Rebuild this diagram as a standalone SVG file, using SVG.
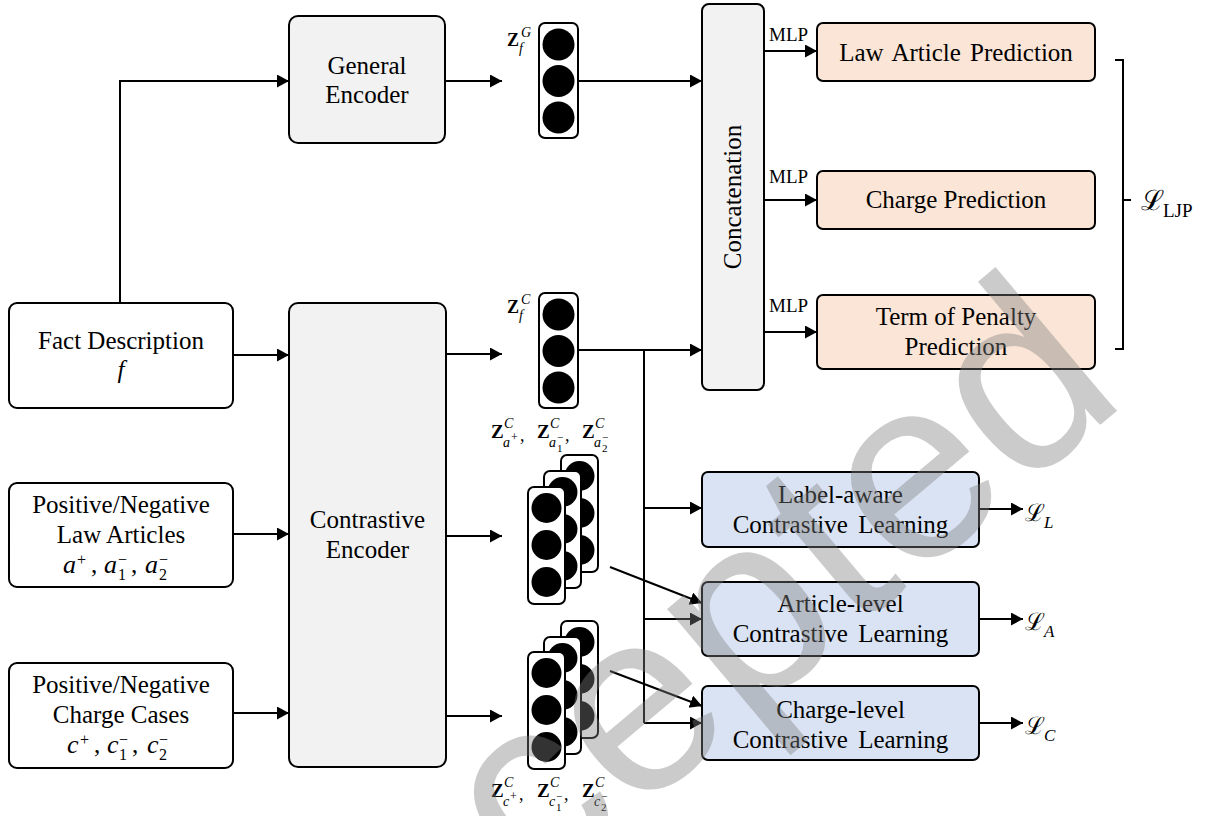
<svg xmlns="http://www.w3.org/2000/svg" width="1206" height="816" viewBox="0 0 1206 816">
<defs>
<marker id="ah" markerUnits="userSpaceOnUse" markerWidth="14" markerHeight="14" refX="12" refY="6.5" orient="auto"><path d="M0,0 L12,6.5 L0,13 z" fill="#000"/></marker>
<style>
text{font-family:"Liberation Serif","Times New Roman",serif}
.box{stroke:#000;stroke-width:2}
.enc{fill:#f2f2f2}
.inp{fill:#fff}
.pred{fill:#fbe5d6}
.cl{fill:#dae3f3}
.t{font-size:25px;fill:#000;text-anchor:middle}
.mlp{font-size:19px;fill:#000}
.mi{font-style:italic;fill:#000}
.mu{fill:#000}
.zb{font-weight:bold;fill:#000}
.sc{font-family:"DejaVu Serif",serif;fill:#000}
.ln{stroke:#000;stroke-width:2;fill:none}
.arr{marker-end:url(#ah)}
.vec{fill:#fff;stroke:#000;stroke-width:2}
.dot{fill:#000}
.wm{font-family:"Liberation Sans",Arial,sans-serif;font-size:260px;fill:#808080;opacity:0.4}
</style>
</defs>
<rect width="1206" height="816" fill="#fff"/>

<g id="connectors">
<path class="ln arr" d="M120,303 V81 H289"/>
<path class="ln arr" d="M233,355 H289"/>
<path class="ln arr" d="M233,534 H289"/>
<path class="ln arr" d="M233,713 H289"/>
<path class="ln arr" d="M446,81 H502"/>
<path class="ln arr" d="M446,354 H502"/>
<path class="ln arr" d="M446,536 H502"/>
<path class="ln arr" d="M446,716 H502"/>
<path class="ln arr" d="M578,81 H702"/>
<path class="ln arr" d="M578,350 H702"/>
<path class="ln" d="M644,350 V723"/>
<path class="ln arr" d="M644,508 H702"/>
<path class="ln arr" d="M644,619 H702"/>
<path class="ln arr" d="M644,723 H702"/>
<path class="ln arr" d="M610,567 L702,603"/>
<path class="ln arr" d="M610,671 L702,706"/>
<path class="ln arr" d="M764,51 H817"/>
<path class="ln arr" d="M764,200 H817"/>
<path class="ln arr" d="M764,332 H817"/>
<path class="ln arr" d="M979,509 H1023"/>
<path class="ln arr" d="M979,619 H1023"/>
<path class="ln arr" d="M979,723 H1023"/>
<path class="ln" d="M1115,60 H1123 V349 H1115 M1123,200 H1131"/>
</g>

<g id="general-encoder">
<rect class="box enc" x="289" y="16" width="156" height="127" rx="9"/>
<text class="t" x="367" y="74">General</text>
<text class="t" x="367" y="103">Encoder</text>
</g>

<g id="contrastive-encoder">
<rect class="box enc" x="289" y="303" width="157" height="464" rx="9"/>
<text class="t" x="367.5" y="528">Contrastive</text>
<text class="t" x="367.5" y="558">Encoder</text>
</g>

<g id="fact-description">
<rect class="box inp" x="9" y="303" width="224" height="105" rx="8"/>
<text class="t" x="121" y="349">Fact Description</text>
<text class="t mi" x="121" y="378">f</text>
</g>

<g id="law-articles">
<rect class="box inp" x="9" y="483" width="224" height="104" rx="8"/>
<text class="t" x="121" y="513">Positive/Negative</text>
<text class="t" x="121" y="543">Law Articles</text>
<text class="mi" x="63" y="573" font-size="26">a</text>
<text class="mu" x="77" y="565" font-size="16">+</text>
<text class="mu" x="91" y="573" font-size="25">,</text>
<text class="mi" x="104" y="573" font-size="26">a</text>
<text class="mu" x="118" y="565" font-size="16">−</text>
<text class="mu" x="118" y="580" font-size="16">1</text>
<text class="mu" x="131" y="573" font-size="25">,</text>
<text class="mi" x="145" y="573" font-size="26">a</text>
<text class="mu" x="159" y="565" font-size="16">−</text>
<text class="mu" x="159" y="580" font-size="16">2</text>
</g>

<g id="charge-cases">
<rect class="box inp" x="9" y="663" width="224" height="105" rx="8"/>
<text class="t" x="121" y="693">Positive/Negative</text>
<text class="t" x="121" y="723">Charge Cases</text>
<text class="mi" x="67" y="753" font-size="26">c</text>
<text class="mu" x="80" y="745" font-size="16">+</text>
<text class="mu" x="94" y="753" font-size="25">,</text>
<text class="mi" x="107" y="753" font-size="26">c</text>
<text class="mu" x="119" y="745" font-size="16">−</text>
<text class="mu" x="119" y="760" font-size="16">1</text>
<text class="mu" x="132" y="753" font-size="25">,</text>
<text class="mi" x="147" y="753" font-size="26">c</text>
<text class="mu" x="159" y="745" font-size="16">−</text>
<text class="mu" x="159" y="760" font-size="16">2</text>
</g>

<g id="zfG">
<rect class="vec" x="539" y="23" width="39" height="115" rx="6"/>
<circle class="dot" cx="558.5" cy="44.5" r="16"/>
<circle class="dot" cx="558.5" cy="81" r="16"/>
<circle class="dot" cx="558.5" cy="117.5" r="16"/>
<text class="zb" x="507" y="46" font-size="18">Z</text>
<text class="mi" x="521" y="37" font-size="14">G</text>
<text class="mi" x="519" y="53" font-size="14">f</text>
</g>

<g id="zfC">
<rect class="vec" x="539" y="293" width="39" height="115" rx="6"/>
<circle class="dot" cx="558.5" cy="314.5" r="16"/>
<circle class="dot" cx="558.5" cy="351" r="16"/>
<circle class="dot" cx="558.5" cy="387.5" r="16"/>
<text class="zb" x="507" y="313" font-size="18">Z</text>
<text class="mi" x="521" y="304" font-size="14">C</text>
<text class="mi" x="519" y="320" font-size="14">f</text>
</g>

<g id="za-stack">
<rect class="vec" x="561" y="455" width="37" height="117" rx="6"/>
<circle class="dot" cx="579.5" cy="476" r="15"/>
<circle class="dot" cx="579.5" cy="513" r="15"/>
<circle class="dot" cx="579.5" cy="550" r="15"/>
<rect class="vec" x="544" y="471" width="37" height="117" rx="6"/>
<circle class="dot" cx="562.5" cy="492" r="15"/>
<circle class="dot" cx="562.5" cy="529" r="15"/>
<circle class="dot" cx="562.5" cy="566" r="15"/>
<rect class="vec" x="528" y="487" width="37" height="117" rx="6"/>
<circle class="dot" cx="546.5" cy="508" r="15"/>
<circle class="dot" cx="546.5" cy="545" r="15"/>
<circle class="dot" cx="546.5" cy="582" r="15"/>
<text class="zb" x="491" y="438" font-size="19">Z</text>
<text class="mi" x="504" y="428" font-size="14">C</text>
<text class="mi" x="503" y="447" font-size="14">a</text>
<text class="mu" x="511" y="441" font-size="12">+</text>
<text class="mu" x="520" y="441" font-size="18">,</text>
<text class="zb" x="537" y="438" font-size="19">Z</text>
<text class="mi" x="550" y="428" font-size="14">C</text>
<text class="mi" x="549" y="447" font-size="14">a</text>
<text class="mu" x="557" y="441" font-size="11">−</text>
<text class="mu" x="557" y="452" font-size="11">1</text>
<text class="mu" x="565" y="441" font-size="18">,</text>
<text class="zb" x="582" y="438" font-size="19">Z</text>
<text class="mi" x="595" y="428" font-size="14">C</text>
<text class="mi" x="594" y="447" font-size="14">a</text>
<text class="mu" x="602" y="441" font-size="11">−</text>
<text class="mu" x="602" y="452" font-size="11">2</text>
</g>

<g id="zc-stack">
<rect class="vec" x="561" y="621" width="37" height="117" rx="6"/>
<circle class="dot" cx="579.5" cy="642" r="15"/>
<circle class="dot" cx="579.5" cy="679" r="15"/>
<circle class="dot" cx="579.5" cy="716" r="15"/>
<rect class="vec" x="544" y="637" width="37" height="117" rx="6"/>
<circle class="dot" cx="562.5" cy="658" r="15"/>
<circle class="dot" cx="562.5" cy="695" r="15"/>
<circle class="dot" cx="562.5" cy="732" r="15"/>
<rect class="vec" x="528" y="652" width="37" height="117" rx="6"/>
<circle class="dot" cx="546.5" cy="673" r="15"/>
<circle class="dot" cx="546.5" cy="710" r="15"/>
<circle class="dot" cx="546.5" cy="747" r="15"/>
<text class="zb" x="491" y="797" font-size="19">Z</text>
<text class="mi" x="504" y="787" font-size="14">C</text>
<text class="mi" x="503" y="806" font-size="14">c</text>
<text class="mu" x="510" y="800" font-size="12">+</text>
<text class="mu" x="519" y="800" font-size="18">,</text>
<text class="zb" x="537" y="797" font-size="19">Z</text>
<text class="mi" x="550" y="787" font-size="14">C</text>
<text class="mi" x="549" y="806" font-size="14">c</text>
<text class="mu" x="556" y="800" font-size="11">−</text>
<text class="mu" x="556" y="811" font-size="11">1</text>
<text class="mu" x="564" y="800" font-size="18">,</text>
<text class="zb" x="582" y="797" font-size="19">Z</text>
<text class="mi" x="595" y="787" font-size="14">C</text>
<text class="mi" x="594" y="806" font-size="14">c</text>
<text class="mu" x="601" y="800" font-size="11">−</text>
<text class="mu" x="601" y="811" font-size="11">2</text>
</g>

<g id="concatenation">
<rect class="box enc" x="702" y="4" width="62" height="386" rx="7"/>
<text class="t" x="733" y="205" transform="rotate(-90 733 197)">Concatenation</text>
</g>

<g id="mlp-labels">
<text class="mlp" x="769" y="41">MLP</text>
<text class="mlp" x="769" y="183">MLP</text>
<text class="mlp" x="769" y="312">MLP</text>
</g>

<g id="law-article-prediction">
<rect class="box pred" x="817" y="23" width="278" height="58" rx="6"/>
<text class="t" x="956" y="61" word-spacing="3">Law Article Prediction</text>
</g>

<g id="charge-prediction">
<rect class="box pred" x="817" y="171" width="278" height="58" rx="6"/>
<text class="t" x="956" y="208">Charge Prediction</text>
</g>

<g id="term-prediction">
<rect class="box pred" x="817" y="295" width="278" height="74" rx="6"/>
<text class="t" x="956" y="325">Term of Penalty</text>
<text class="t" x="956" y="355">Prediction</text>
</g>

<g id="label-aware">
<rect class="box cl" x="702" y="472" width="277" height="75" rx="6"/>
<text class="t" x="840.5" y="503">Label-aware</text>
<text class="t" x="840.5" y="533" word-spacing="4">Contrastive Learning</text>
</g>

<g id="article-level">
<rect class="box cl" x="702" y="582" width="277" height="74" rx="6"/>
<text class="t" x="840.5" y="612">Article-level</text>
<text class="t" x="840.5" y="642" word-spacing="4">Contrastive Learning</text>
</g>

<g id="charge-level">
<rect class="box cl" x="702" y="686" width="277" height="74" rx="6"/>
<text class="t" x="840.5" y="718">Charge-level</text>
<text class="t" x="840.5" y="748" word-spacing="4">Contrastive Learning</text>
</g>

<g id="losses">
<text class="sc" x="1025" y="521" font-size="24">ℒ</text>
<text class="mi" x="1044" y="528" font-size="17">L</text>
<text class="sc" x="1025" y="630" font-size="24">ℒ</text>
<text class="mi" x="1044" y="637" font-size="17">A</text>
<text class="sc" x="1025" y="734" font-size="24">ℒ</text>
<text class="mi" x="1044" y="741" font-size="17">C</text>
<text class="sc" x="1141" y="210" font-size="28">ℒ</text>
<text class="mu" x="1163" y="217" font-size="19">LJP</text>
</g>

<text class="wm" x="1130" y="400" transform="rotate(-40 1130 400)" text-anchor="end">Accepted</text>
</svg>
